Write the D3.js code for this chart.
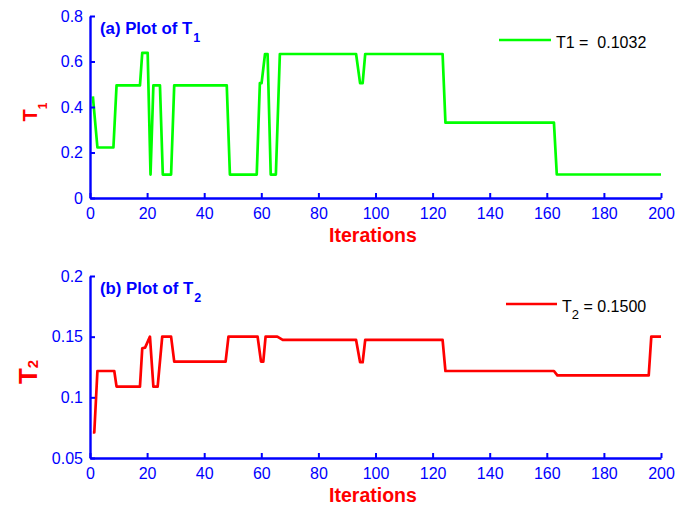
<!DOCTYPE html>
<html>
<head>
<meta charset="utf-8">
<script src="https://cdn.jsdelivr.net/npm/d3@7"></script>
<style>
  html, body { margin: 0; padding: 0; background: #fff; }
  svg { display: block; }
  text { font-family: "Liberation Sans", Arial, sans-serif; }
</style>
</head>
<body>
<div id="chart"></div>
<script>
// ---------- data ----------
const xTicks = [0, 20, 40, 60, 80, 100, 120, 140, 160, 180, 200];
const t1Ticks = [0, 0.2, 0.4, 0.6, 0.8];
const t1TickLabels = ["0", "0.2", "0.4", "0.6", "0.8"];
const t2Ticks = [0.05, 0.1, 0.15, 0.2];
const t2TickLabels = ["0.05", "0.1", "0.15", "0.2"];

const t1Iter = [1, 2.6, 8.2, 9.3, 17.5, 18.3, 20.2, 21.2, 22.2, 24.5, 25.5, 28.4, 29.5, 47.9, 49, 58.4, 59.5, 60.1, 61.3, 62.2, 63.3, 65.1, 66.5, 93.2, 94.6, 95.5, 96.4, 123.5, 124.5, 162.5, 163.5, 200];
const t1Vals = [0.447, 0.222, 0.222, 0.495, 0.495, 0.638, 0.638, 0.103, 0.495, 0.495, 0.103, 0.103, 0.495, 0.495, 0.103, 0.103, 0.505, 0.505, 0.633, 0.633, 0.103, 0.103, 0.633, 0.633, 0.505, 0.505, 0.633, 0.633, 0.331, 0.331, 0.1032, 0.1032];

const t2Iter = [1, 1.5, 2.6, 8.5, 9.3, 17.5, 18.3, 19.3, 21, 22.2, 23.7, 25.3, 28.4, 29.5, 47.5, 48.5, 58.7, 59.9, 60.7, 61.5, 65.6, 67.5, 93.2, 94.6, 95.5, 96.4, 123.5, 124.5, 162.5, 163.7, 195.7, 196.6, 200];
const t2Vals = [0.071, 0.071, 0.1217, 0.1217, 0.1088, 0.1088, 0.1404, 0.141, 0.15, 0.1088, 0.1088, 0.15, 0.15, 0.1294, 0.1294, 0.15, 0.15, 0.1294, 0.1294, 0.15, 0.15, 0.1473, 0.1473, 0.1289, 0.1289, 0.1473, 0.1473, 0.1217, 0.1217, 0.1181, 0.1181, 0.15, 0.15];

const xLabel = "Iterations";

// ---------- layout ----------
const W = 676, H = 506;
const svg = d3.select("#chart").append("svg").attr("width", W).attr("height", H);
svg.append("rect").attr("width", W).attr("height", H).attr("fill", "#fff");

const BLUE = "#0000ff";
const x = d3.scaleLinear().domain([0, 200]).range([90, 661]);

function panel(opts) {
  const y = d3.scaleLinear().domain(opts.yDomain).range(opts.yRange);
  const g = svg.append("g");

  // data line
  const pts = opts.iter.map((it, i) => [it, opts.vals[i]]);
  g.append("path")
    .datum(pts)
    .attr("fill", "none")
    .attr("stroke", opts.color)
    .attr("stroke-width", 2.7)
    .attr("stroke-linejoin", "round")
    .attr("d", d3.line().x(d => x(d[0])).y(d => y(d[1])));

  // axes
  const xAxis = d3.axisBottom(x).tickValues(xTicks).tickFormat(d3.format("d"))
    .tickSizeInner(-5).tickSizeOuter(0).tickPadding(10);
  const yAxis = d3.axisLeft(y).tickValues(opts.yTicks)
    .tickFormat((d, i) => opts.yTickLabels[i])
    .tickSizeInner(-5).tickSizeOuter(0).tickPadding(7);

  const gx = g.append("g").attr("transform", `translate(0,${opts.yRange[0]})`).call(xAxis);
  const gy = g.append("g").attr("transform", `translate(90,0)`).call(yAxis);
  [gx, gy].forEach(a => {
    a.select(".domain").attr("stroke", BLUE).attr("stroke-width", 2.4);
    a.selectAll(".tick line").attr("stroke", BLUE).attr("stroke-width", 2);
    a.selectAll(".tick text").attr("fill", BLUE).attr("font-size", 16)
      .attr("font-family", "Liberation Sans, Arial, sans-serif");
  });

  // x label
  g.append("text")
    .attr("x", 373).attr("y", opts.yRange[0] + 43.5)
    .attr("text-anchor", "middle")
    .attr("font-size", 19.5).attr("font-weight", "bold")
    .attr("fill", "#ff0000")
    .text(xLabel);

  // title
  const t = g.append("text")
    .attr("x", 100).attr("y", opts.yRange[1] + 18)
    .attr("font-size", 16.8).attr("font-weight", "bold")
    .attr("fill", BLUE);
  t.append("tspan").text(opts.titleMain);
  t.append("tspan").attr("dy", 8).attr("dx", 1).attr("font-size", 12.5).text(opts.titleSub);

  // y label
  const yl = g.append("text")
    .attr("transform", `translate(${opts.ylX},${opts.ylY}) rotate(-90)`)
    .attr("text-anchor", "middle")
    .attr("font-weight", "bold")
    .attr("fill", "#ff0000");
  yl.append("tspan").attr("font-size", opts.ylSize).text("T");
  yl.append("tspan").attr("font-size", opts.ylSubSize).attr("dy", opts.ylSubDy).text(opts.ylSub);

  // legend
  const ly = opts.yRange[1] + opts.legDy;
  g.append("line")
    .attr("x1", opts.legX1).attr("x2", opts.legX2)
    .attr("y1", ly).attr("y2", ly)
    .attr("stroke", opts.color).attr("stroke-width", 2.7);
  const lt = g.append("text")
    .attr("x", opts.legX2 + 5).attr("y", ly + 7.5)
    .attr("font-size", 16).attr("fill", "#000")
    .style("white-space", "pre");
  opts.legendParts.forEach(p => {
    const s = lt.append("tspan").text(p.t);
    if (p.sub) s.attr("font-size", 13).attr("dy", 7);
    if (p.back) s.attr("dy", -7);
  });
}

panel({
  yDomain: [0, 0.8], yRange: [198, 16],
  yTicks: t1Ticks, yTickLabels: t1TickLabels,
  iter: t1Iter, vals: t1Vals, color: "#00ff00",
  titleMain: "(a) Plot of T", titleSub: "1",
  ylX: 37, ylY: 112, ylSize: 20, ylSubSize: 12, ylSubDy: 10, ylSub: "1",
  legDy: 24, legX1: 499, legX2: 551,
  legendParts: [{t: "T1 =  0.1032"}]
});

panel({
  yDomain: [0.05, 0.2], yRange: [458, 276],
  yTicks: t2Ticks, yTickLabels: t2TickLabels,
  iter: t2Iter, vals: t2Vals, color: "#ff0000",
  titleMain: "(b) Plot of T", titleSub: "2",
  ylX: 37, ylY: 372, ylSize: 26, ylSubSize: 15, ylSubDy: 1, ylSub: "2",
  legDy: 28, legX1: 506, legX2: 557,
  legendParts: [{t: "T"}, {t: "2", sub: true}, {t: " = 0.1500", back: true}]
});
</script>
</body>
</html>
